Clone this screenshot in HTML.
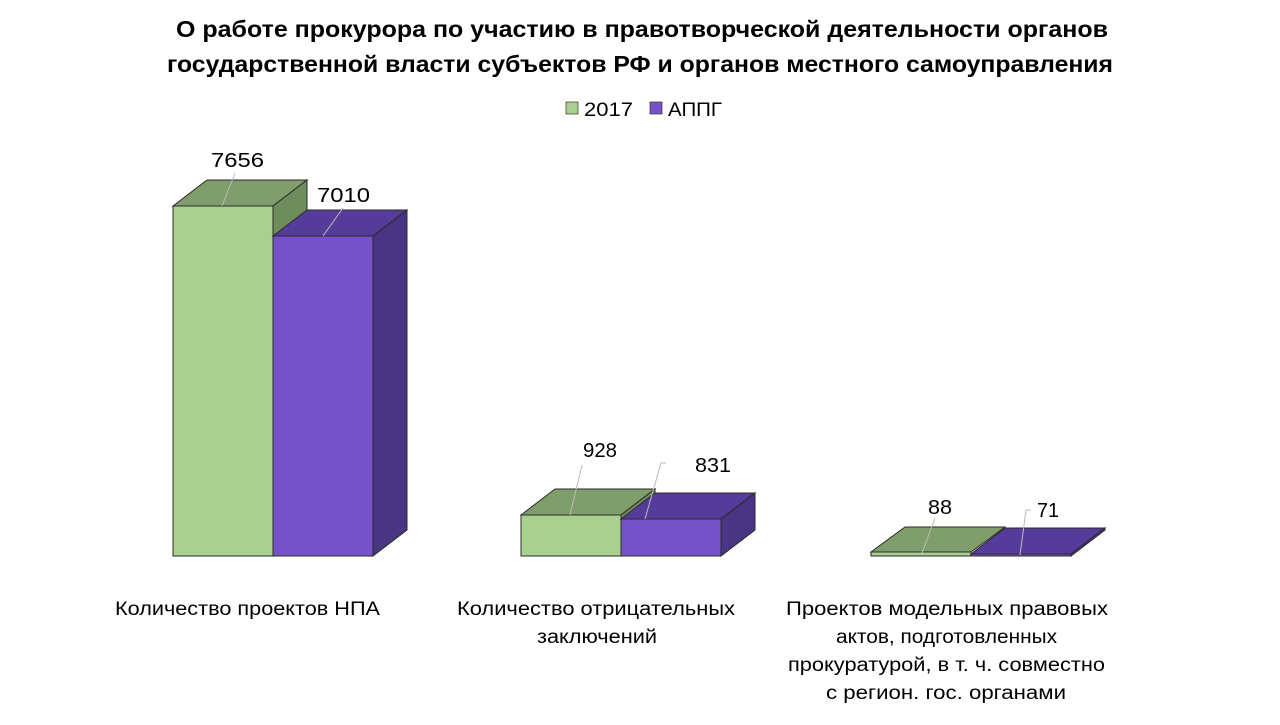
<!DOCTYPE html>
<html><head><meta charset="utf-8"><style>
body{margin:0;background:#fff;}
svg text{font-family:"Liberation Sans",sans-serif;}
</style></head><body>
<svg width="1280" height="720" viewBox="0 0 1280 720" xmlns="http://www.w3.org/2000/svg">
<text x="176" y="37" font-size="23" font-weight="bold" fill="#000" textLength="932" lengthAdjust="spacingAndGlyphs">О работе прокурора по участию в правотворческой деятельности органов</text>
<text x="167" y="72" font-size="23" font-weight="bold" fill="#000" textLength="946" lengthAdjust="spacingAndGlyphs">государственной власти субъектов РФ и органов местного самоуправления</text>
<rect x="566" y="102" width="12" height="12" fill="#a9d08e" stroke="#333" stroke-width="0.7"/>
<text x="584" y="116" font-size="19" textLength="49" lengthAdjust="spacingAndGlyphs">2017</text>
<rect x="650" y="102" width="12" height="12" fill="#7652c8" stroke="#333" stroke-width="0.7"/>
<text x="668" y="116" font-size="19" textLength="54" lengthAdjust="spacingAndGlyphs">АППГ</text>
<g stroke="#2a2a2a" stroke-width="1">
<polygon points="173,206 207,180 307,180 273,206" fill="#7f9e6b"/>
<polygon points="273,206 307,180 307,530 273,556" fill="#6f8c5c"/>
<rect x="173" y="206" width="100" height="350" fill="#a9d08e"/>
<polygon points="273,236 307,210 407,210 373,236" fill="#553c9a"/>
<polygon points="373,236 407,210 407,530 373,556" fill="#4a3584"/>
<rect x="273" y="236" width="100" height="320" fill="#7652c8"/>
<polygon points="521,515 555,489 655,489 621,515" fill="#7f9e6b"/>
<polygon points="621,515 655,489 655,530 621,556" fill="#6f8c5c"/>
<rect x="521" y="515" width="100" height="41" fill="#a9d08e"/>
<polygon points="621,519 655,493 755,493 721,519" fill="#553c9a"/>
<polygon points="721,519 755,493 755,530 721,556" fill="#4a3584"/>
<rect x="621" y="519" width="100" height="37" fill="#7652c8"/>
<polygon points="871,552 905,527 1005,527 971,552" fill="#7f9e6b"/>
<rect x="871" y="552" width="100" height="4" fill="#a9d08e"/>
<polygon points="971,554 1005,528 1105,528 1071,554" fill="#553c9a"/>
<polygon points="1071,554 1105,528 1105,530 1071,556" fill="#4a3584"/>
<rect x="971" y="554" width="100" height="2" fill="#7652c8"/>
</g>
<g stroke="#bbb" stroke-width="1" fill="none">
<line x1="235" y1="173" x2="222" y2="206"/>
<line x1="343" y1="208" x2="323" y2="236"/>
<line x1="582" y1="465" x2="570" y2="515"/>
<polyline points="666,463 661,463 645,519"/>
<line x1="935" y1="518" x2="922" y2="553"/>
<polyline points="1031,510 1026,510 1020,555"/>
</g>
<g font-size="20" fill="#000">
<text x="211" y="167" textLength="53" lengthAdjust="spacingAndGlyphs">7656</text>
<text x="317" y="202" textLength="53" lengthAdjust="spacingAndGlyphs">7010</text>
<text x="583" y="457" textLength="34" lengthAdjust="spacingAndGlyphs">928</text>
<text x="695" y="472" textLength="36" lengthAdjust="spacingAndGlyphs">831</text>
<text x="928" y="514" textLength="24" lengthAdjust="spacingAndGlyphs">88</text>
<text x="1037" y="517" textLength="22" lengthAdjust="spacingAndGlyphs">71</text>
</g>
<g font-size="19" fill="#000">
<text x="115" y="615" textLength="265" lengthAdjust="spacingAndGlyphs">Количество проектов НПА</text>
<text x="457" y="615" textLength="278" lengthAdjust="spacingAndGlyphs">Количество отрицательных</text>
<text x="537" y="643" textLength="120" lengthAdjust="spacingAndGlyphs">заключений</text>
<text x="786" y="615" textLength="322" lengthAdjust="spacingAndGlyphs">Проектов модельных правовых</text>
<text x="836" y="643" textLength="221" lengthAdjust="spacingAndGlyphs">актов, подготовленных</text>
<text x="788" y="671" textLength="317" lengthAdjust="spacingAndGlyphs">прокуратурой, в т. ч. совместно</text>
<text x="826" y="699" textLength="240" lengthAdjust="spacingAndGlyphs">с регион. гос. органами</text>
</g>
</svg>
</body></html>
